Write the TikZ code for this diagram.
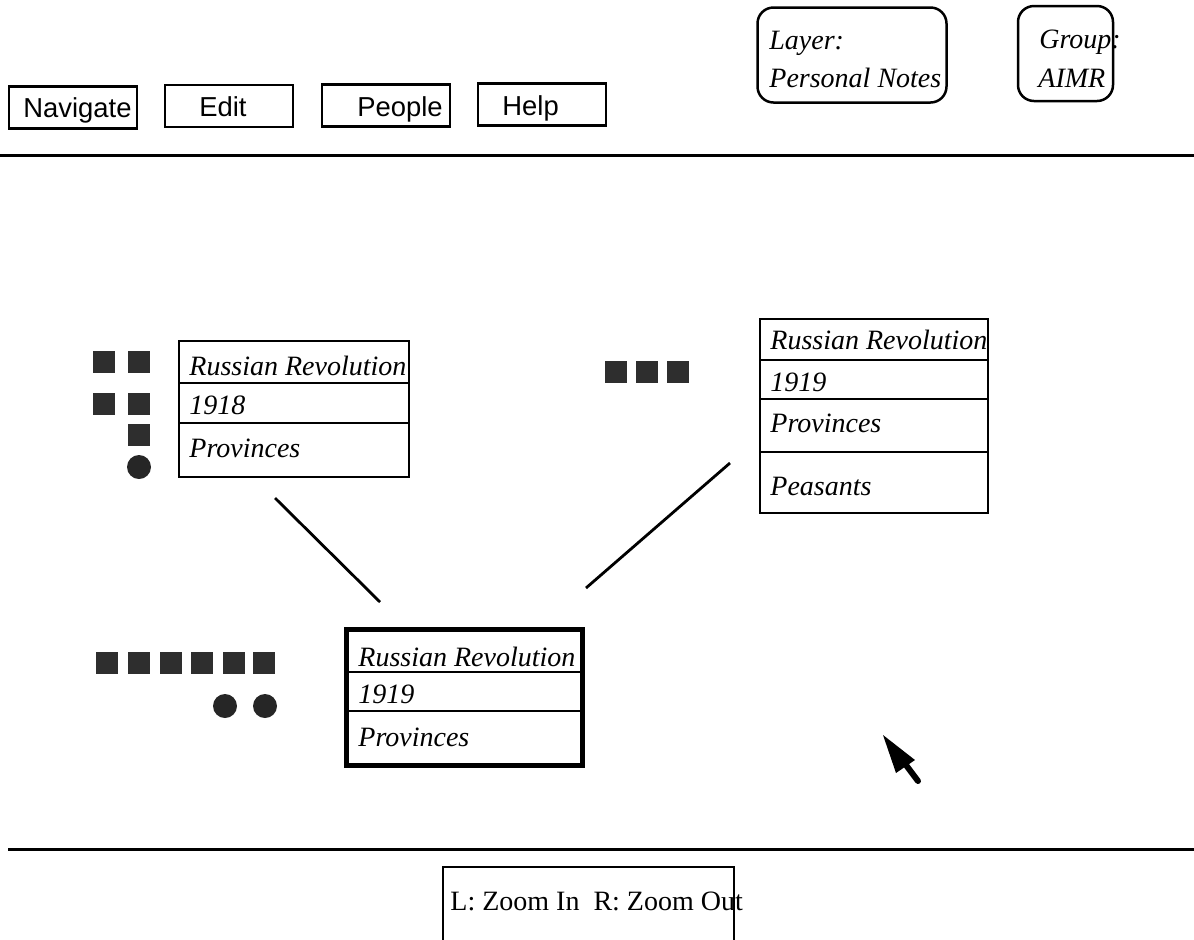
\documentclass[tikz,border=0pt]{standalone}
\usepackage{fontspec}
\setmainfont{Liberation Serif}
\newfontfamily\hvfont{Liberation Sans}
\newcommand\btnfont{\hvfont\fontsize{13.7}{16}\selectfont}
\newcommand\cardfont{\fontsize{14}{16}\selectfont\itshape}
\newcommand\romfont{\fontsize{14}{16}\selectfont}
\begin{document}
\begin{tikzpicture}[x=0.5pt,y=-0.5pt,
  box/.style={draw, line width=1.25pt, inner sep=0pt, outer sep=0pt},
  btnbox/.style={box, minimum width=64pt, minimum height=21pt},
  btntext/.style={anchor=base west, inner sep=0pt, font=\btnfont},
  cardtext/.style={anchor=base west, inner sep=0pt, font=\cardfont},
  tagbox/.style={box, rounded corners=8pt},
  sep/.style={line width=1.5pt},
  divider/.style={line width=1.25pt},
  link/.style={line width=1.4pt},
  chip/.style={fill=black!82, draw=none, minimum size=11pt, inner sep=0pt},
  dot/.style={circle, fill=black!85, draw=none, minimum size=12pt, inner sep=0pt}]
\useasboundingbox (0,0) rectangle (1194,939);

% menu buttons
\node[btnbox] (nav) at (73,107.5) {};
\node[btntext] (navt) at (23,117) {Navigate};
\node[btnbox] (edit) at (229,106) {};
\node[btntext] (editt) at (199,116) {Edit};
\node[btnbox] (people) at (386,105.5) {};
\node[btntext] (peoplet) at (357,116) {People};
\node[btnbox] (help) at (542,104.5) {};
\node[btntext] (helpt) at (502,115) {Help};

% layer and group tags
\node[tagbox, minimum width=94.5pt, minimum height=47.5pt] (layer) at (852,55) {};
\node[cardtext] (layert1) at (769,49) {Layer:};
\node[cardtext] (layert2) at (769,87) {Personal Notes};
\node[tagbox, minimum width=47.5pt, minimum height=47.5pt] (group) at (1065.5,53.5) {};
\node[cardtext] (groupt1) at (1039,48) {Group:};
\node[cardtext] (groupt2) at (1038,87) {AIMR};

% separators
\coordinate (s1a) at (0,155);
\coordinate (s1b) at (1194,155);
\draw[sep] (s1a) -- (s1b);
\coordinate (s2a) at (8,849);
\coordinate (s2b) at (1194,849);
\draw[sep] (s2a) -- (s2b);

% left card (1918)
\node[box, minimum width=115pt, minimum height=68pt] (cL) at (294,409) {};
\draw[divider] (cL.west |- 0,383) -- (cL.east |- 0,383);
\draw[divider] (cL.west |- 0,423) -- (cL.east |- 0,423);
\node[cardtext] (cLt1) at (189,375) {Russian Revolution};
\node[cardtext] (cLt2) at (189,414) {1918};
\node[cardtext] (cLt3) at (189,457) {Provinces};
\node[chip] (qa) at (104,362) {};
\node[chip] (qb) at (139,362) {};
\node[chip] (qc) at (104,404) {};
\node[chip] (qd) at (139,404) {};
\node[chip] (qe) at (139,435) {};
\node[dot] (qf) at (139,467) {};

% right card (1919, peasants)
\node[box, minimum width=114pt, minimum height=97pt] (cR) at (874,416) {};
\draw[divider] (cR.west |- 0,360) -- (cR.east |- 0,360);
\draw[divider] (cR.west |- 0,399) -- (cR.east |- 0,399);
\draw[divider] (cR.west |- 0,452) -- (cR.east |- 0,452);
\node[cardtext] (cRt1) at (770,349) {Russian Revolution};
\node[cardtext] (cRt2) at (770,391) {1919};
\node[cardtext] (cRt3) at (770,432) {Provinces};
\node[cardtext] (cRt4) at (770,495) {Peasants};
\node[chip] (ra) at (616,371.5) {};
\node[chip] (rb) at (646.5,371.5) {};
\node[chip] (rc) at (678,371.5) {};

% bottom card (selected)
\node[draw, line width=2.5pt, inner sep=0pt, minimum width=118pt, minimum height=68pt] (cB) at (464.5,697.5) {};
\draw[divider] (cB.west |- 0,672) -- (cB.east |- 0,672);
\draw[divider] (cB.west |- 0,711) -- (cB.east |- 0,711);
\node[cardtext] (cBt1) at (358,666) {Russian Revolution};
\node[cardtext] (cBt2) at (358,703) {1919};
\node[cardtext] (cBt3) at (358,746) {Provinces};
\node[chip] (ba) at (107,663) {};
\node[chip] (bb) at (139,663) {};
\node[chip] (bc) at (171,663) {};
\node[chip] (bd) at (202,663) {};
\node[chip] (be) at (234,663) {};
\node[chip] (bf) at (264,663) {};
\node[dot] (bg) at (225,706) {};
\node[dot] (bh) at (265,706) {};

% links
\coordinate (l1a) at (275,498);
\coordinate (l1b) at (380,602);
\draw[link] (l1a) -- (l1b);
\coordinate (l2a) at (730,463);
\coordinate (l2b) at (586,588);
\draw[link] (l2a) -- (l2b);

% cursor
\coordinate (ctip) at (883,735);
\coordinate (cl) at (896,773);
\coordinate (cr) at (915,760);
\coordinate (cs1) at (903,761);
\coordinate (cs2) at (918,781);
\fill (ctip) -- (cl) -- (cr) -- cycle;
\draw[line width=3pt, line cap=round] (cs1) -- (cs2);

% status box
\coordinate (st1) at (443,945);
\coordinate (st2) at (443,867);
\coordinate (st3) at (734,867);
\coordinate (st4) at (734,945);
\draw[line width=1.25pt] (st1) -- (st2) -- (st3) -- (st4);
\node[anchor=base west, inner sep=0pt, font=\romfont] (stt) at (450,910) {L: Zoom In\ \ R: Zoom Out};
\end{tikzpicture}
\end{document}
